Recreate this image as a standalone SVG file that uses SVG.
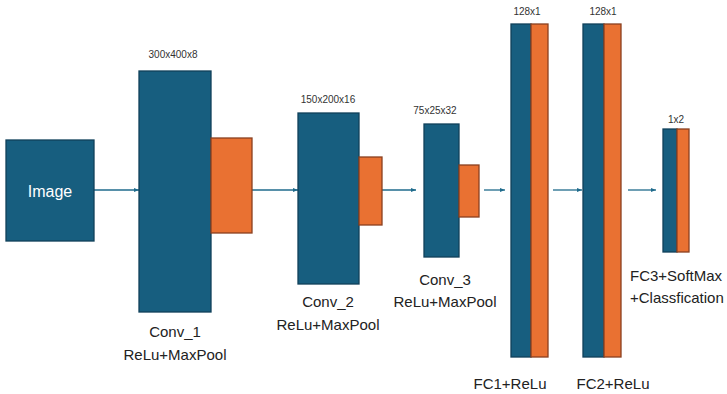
<svg xmlns="http://www.w3.org/2000/svg" width="727" height="394" viewBox="0 0 727 394">
<style>
.b{fill:#175E7F;stroke:#10405A;stroke-width:1.3}
.o{fill:#E97132;stroke:#8A4020;stroke-width:1.3}
.lbl{font-family:"Liberation Sans",Arial,sans-serif;font-size:15px;fill:#222;text-anchor:middle}
.dim{font-family:"Liberation Sans",Arial,sans-serif;font-size:10px;fill:#333;text-anchor:middle}
.c{stroke:#1F6B8C;stroke-width:1.3;fill:none;marker-end:url(#ah)}
</style>
<defs>
<marker id="ah" viewBox="0 0 10 10" refX="10" refY="5" markerWidth="5" markerHeight="5" orient="auto" markerUnits="userSpaceOnUse">
<path d="M0,1 L10,5 L0,9 z" fill="#1F6B8C"/>
</marker>
</defs>
<rect width="727" height="394" fill="#fff"/>
<g id="connectors">
<line class="c" x1="94" y1="190" x2="139" y2="190"/>
<line class="c" x1="252" y1="190" x2="298" y2="190"/>
<line class="c" x1="382" y1="190" x2="416" y2="190"/>
<line class="c" x1="484" y1="190" x2="505" y2="190"/>
<line class="c" x1="553" y1="190" x2="582" y2="190"/>
<line class="c" x1="628" y1="190" x2="656" y2="190"/>
</g>
<g id="image">
<rect class="b" x="6" y="140" width="88" height="101"/>
<text x="50" y="197" font-family="Liberation Sans, Arial, sans-serif" font-size="16" fill="#fff" text-anchor="middle">Image</text>
</g>
<g id="conv1">
<rect class="b" x="139" y="71" width="72" height="241"/>
<rect class="o" x="211" y="138" width="41" height="95"/>
<text class="dim" x="173" y="58">300x400x8</text>
<text class="lbl" x="175" y="337">Conv_1</text>
<text class="lbl" x="175" y="360">ReLu+MaxPool</text>
</g>
<g id="conv2">
<rect class="b" x="298" y="113" width="61" height="171"/>
<rect class="o" x="359" y="157" width="23" height="68"/>
<text class="dim" x="328" y="103">150x200x16</text>
<text class="lbl" x="328" y="307">Conv_2</text>
<text class="lbl" x="328" y="330">ReLu+MaxPool</text>
</g>
<g id="conv3">
<rect class="b" x="424" y="124" width="35" height="133"/>
<rect class="o" x="459" y="165" width="20" height="52"/>
<text class="dim" x="435" y="114" font-size="8">75x25x32</text>
<text class="lbl" x="445" y="285">Conv_3</text>
<text class="lbl" x="445" y="307">ReLu+MaxPool</text>
</g>
<g id="fc1">
<rect class="b" x="511" y="24" width="20" height="333"/>
<rect class="o" x="531" y="24" width="17" height="333"/>
<text class="dim" x="527" y="15">128x1</text>
<text class="lbl" x="510" y="389">FC1+ReLu</text>
</g>
<g id="fc2">
<rect class="b" x="583" y="24" width="21" height="333"/>
<rect class="o" x="604" y="24" width="17" height="333"/>
<text class="dim" x="603" y="15">128x1</text>
<text class="lbl" x="613" y="389">FC2+ReLu</text>
</g>
<g id="fc3">
<rect class="b" x="663" y="129" width="14" height="123"/>
<rect class="o" x="677" y="129" width="12" height="123"/>
<text class="dim" x="676" y="123">1x2</text>
<text class="lbl" x="630" y="281" style="text-anchor:start">FC3+SoftMax</text>
<text class="lbl" x="630" y="303" style="text-anchor:start">+Classfication</text>
</g>
</svg>
